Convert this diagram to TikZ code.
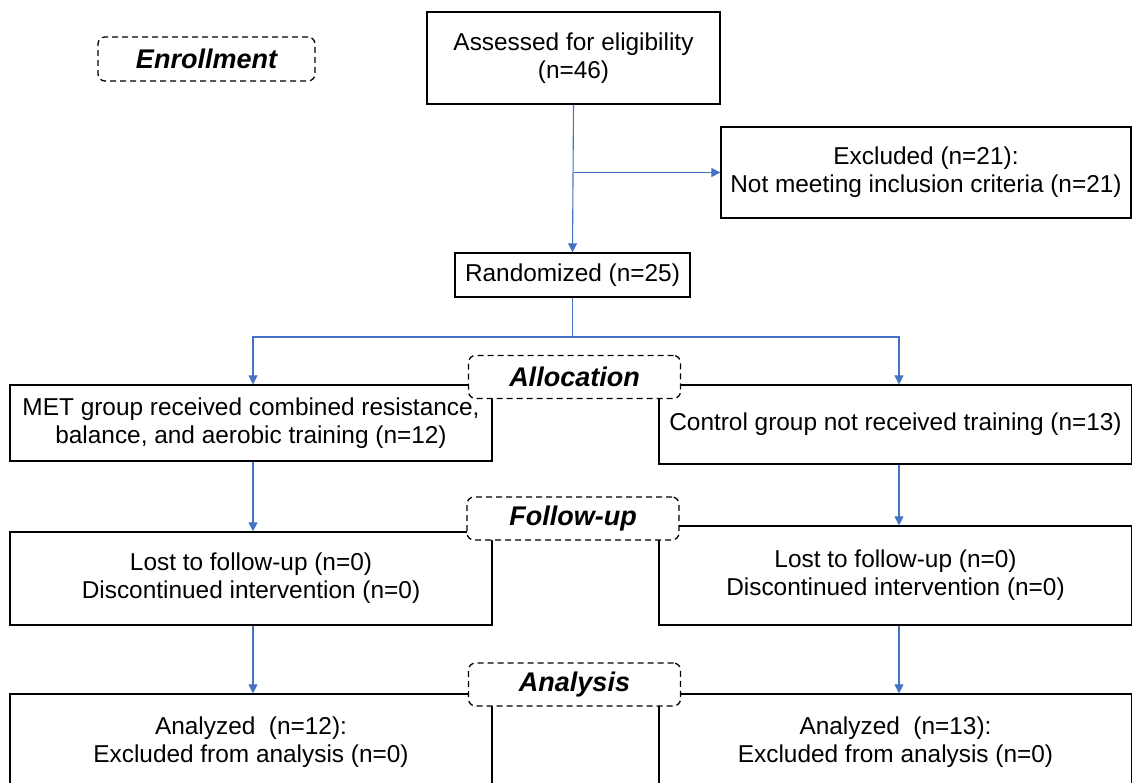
\documentclass[tikz,border=0pt]{standalone}
\usepackage{fontspec}
\setmainfont{Liberation Sans}
\usetikzlibrary{arrows.meta}
\definecolor{linkblue}{RGB}{68,114,196}
\begin{document}
\begin{tikzpicture}[x=1pt,y=-1pt,
    box/.style={draw,line width=1.3pt,inner sep=0pt,align=center,
                font=\fontsize{24.4}{28}\selectfont},
    stage/.style={draw,line width=1.3pt,dash pattern=on 6pt off 4pt,
                  rounded corners=7pt,fill=white,inner sep=0pt,
                  minimum width=212pt,minimum height=43pt,
                  font=\fontsize{27}{32}\selectfont\bfseries\itshape},
    link/.style={draw=linkblue,line width=1.1pt,
                 -{Triangle[width=9pt,length=9pt]}}]
  \useasboundingbox (0,0) rectangle (1132,782);
  \clip (0,0) rectangle (1132,782);
  % boxes
  \node[box,minimum width=293pt,minimum height=92pt] (assess) at (573.5,58)
       {Assessed for eligibility\\(n=46)};
  \node[box,minimum width=410pt,minimum height=91pt] (excl) at (926,172.5)
       {Excluded (n=21):\\Not meeting inclusion criteria (n=21)};
  \node[box,minimum width=235pt,minimum height=44pt] (rand) at (572.5,275)
       {Randomized (n=25)};
  \node[box,minimum width=482pt,minimum height=76pt] (met) at (251,423)
       {MET group received combined resistance,\\balance, and aerobic training (n=12)};
  \node[box,minimum width=473pt,minimum height=79pt] (ctrl) at (895.5,424.5)
       {Control group not received training (n=13)};
  \node[box,minimum width=482pt,minimum height=93pt] (lostL) at (251,578.5)
       {Lost to follow-up (n=0)\\Discontinued intervention (n=0)};
  \node[box,minimum width=473pt,minimum height=99pt] (lostR) at (895.5,575.5)
       {Lost to follow-up (n=0)\\Discontinued intervention (n=0)};
  \node[box,minimum width=482pt,minimum height=96pt] (anaL) at (251,742)
       {Analyzed\ \ (n=12):\\Excluded from analysis (n=0)};
  \node[box,minimum width=473pt,minimum height=96pt] (anaR) at (895.5,742)
       {Analyzed\ \ (n=13):\\Excluded from analysis (n=0)};
  % connectors
  \coordinate (split) at (572.5,337);
  \coordinate (colL) at (253,0);
  \coordinate (colR) at (899,0);
  \draw[link] (assess.south) -- (rand.north);
  \draw[link] (assess.south |- excl.west) -- (excl.west);
  \draw[draw=linkblue,line width=1.1pt] (rand.south) -- (split);
  \draw[link] (split) -| (colL |- met.north);
  \draw[link] (split) -| (colR |- ctrl.north);
  \draw[link] (colL |- met.south) -- (colL |- lostL.north);
  \draw[link] (colR |- ctrl.south) -- (colR |- lostR.north);
  \draw[link] (colL |- lostL.south) -- (colL |- anaL.north);
  \draw[link] (colR |- lostR.south) -- (colR |- anaR.north);
  % stage labels
  \node[stage,minimum width=217pt,minimum height=44pt] (enroll) at (206.5,59) {Enrollment};
  \node[stage] (alloc) at (574.5,377) {Allocation};
  \node[stage] (follow) at (573,518.5) {Follow-up};
  \node[stage] (analysis) at (574.5,684.5) {Analysis};
\end{tikzpicture}
\end{document}
